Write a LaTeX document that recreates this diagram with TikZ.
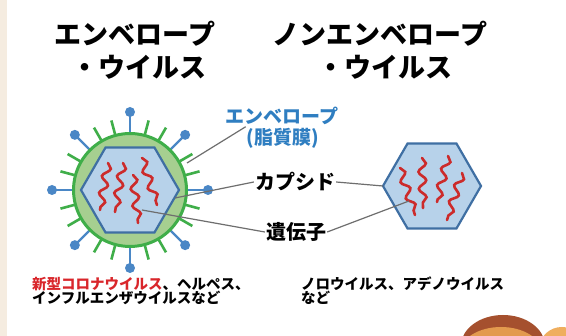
\documentclass[tikz,border=0pt]{standalone}
\usepackage{fontspec}
\setmainfont{Noto Sans CJK JP}
\usetikzlibrary{decorations.pathmorphing,calc}
\definecolor{envfill}{HTML}{A6CF90}
\definecolor{envline}{HTML}{3FAE49}
\definecolor{knob}{HTML}{4A87C6}
\definecolor{capfill}{HTML}{B7D2EA}
\definecolor{capline}{HTML}{3F6FA3}
\definecolor{rna}{HTML}{CC2B2B}
\definecolor{labelblue}{HTML}{2F7EC1}
\definecolor{leader}{HTML}{6E6E6E}
\definecolor{sidebar}{HTML}{F5ECE0}
\definecolor{hairdark}{HTML}{A5502E}
\definecolor{skin}{HTML}{E39A4E}
\definecolor{skinlight}{HTML}{EFAE5E}
\definecolor{hotred}{HTML}{D9262B}
\begin{document}
\begin{tikzpicture}[x=1pt,y=-1pt,
  title/.style={font=\bfseries\fontsize{27}{27}\selectfont, inner sep=0pt},
  partlabel/.style={font=\bfseries\fontsize{19}{19}\selectfont, inner sep=1pt},
  example/.style={font=\bfseries\fontsize{14.5}{17}\selectfont, inner sep=0pt, anchor=base west},
  leaderline/.style={draw=leader, line width=1.2pt},
  capsid/.style={fill=capfill, draw=capline, line width=2.2pt, line join=miter},
  gene/.style={draw=rna, line width=2.6pt, line cap=round, decorate,
    decoration={snake, segment length=17pt, amplitude=3.8pt}},
  spike/.style={draw=envline, line width=2.6pt},
  stalk/.style={draw=knob, line width=2.4pt},
]
% page, side strip
\fill[white] (0,0) rectangle (566,336);
\fill[sidebar] (0,0) rectangle (7,336);
\useasboundingbox (0,0) rectangle (566,336);

% mascot peeking in at the lower right
\begin{scope}
  \clip (0,0) rectangle (566,336);
  \fill[hairdark] (503,346) ellipse [x radius=42, y radius=31];
  \fill[skin] (501,353) ellipse [x radius=41, y radius=26];
  \fill[skinlight] (562,347) ellipse [x radius=22, y radius=20];
\end{scope}

% titles
\node[title] (t1a) at (135,34) {エンベロープ};
\node[title] (t1b) at (139,67) {・ウイルス};
\node[title] (t2a) at (380,34) {ノンエンベロープ};
\node[title] (t2b) at (385,67) {・ウイルス};

% enveloped virus
\coordinate (ev) at (130,190);
\foreach \k in {0,...,7}{
  \foreach \d in {15,30}{
    \draw[spike] (ev) ++(\k*45+\d:56) -- ++(\k*45+\d:16);
  }
  \draw[stalk] (ev) ++(\k*45:56) -- ++(\k*45:20);
  \fill[knob] (ev) ++(\k*45:78) circle (5);
}
\draw[fill=envfill, draw=envline, line width=3pt] (ev) circle (56.5);
\draw[capsid] ([shift={(0:49)}]ev) -- ([shift={(60:49)}]ev) -- ([shift={(120:49)}]ev)
  -- ([shift={(180:49)}]ev) -- ([shift={(240:49)}]ev) -- ([shift={(300:49)}]ev) -- cycle;
\draw[gene] (108,163) -- (100,210);
\draw[gene] (123,163) -- (115,212);
\draw[gene] (133,175) -- (138,223);
\draw[gene] (142,158) -- (157,205);

% non-enveloped virus
\coordinate (nv) at (432,186);
\draw[capsid] ([shift={(0:49)}]nv) -- ([shift={(60:49)}]nv) -- ([shift={(120:49)}]nv)
  -- ([shift={(180:49)}]nv) -- ([shift={(240:49)}]nv) -- ([shift={(300:49)}]nv) -- cycle;
\draw[gene] (400,168) -- (415,215);
\draw[gene] (422,158) -- (423,208);
\draw[gene] (448,156) -- (437,202);
\draw[gene] (462,173) -- (447,220);

% part labels
\node[partlabel, text=labelblue] (envA) at (282,116) {エンベロープ};
\node[partlabel, text=labelblue] (envB) at (283,138) {(脂質膜)};
\node[partlabel, font=\bfseries\fontsize{20}{20}\selectfont] (cap) at (295,182) {カプシド};
\node[partlabel, font=\bfseries\fontsize{20}{20}\selectfont] (gene) at (296,232) {遺伝子};

% leader lines
\coordinate (envPt) at (187,163);
\coordinate (capL) at (175,198);
\coordinate (geneL) at (142,210);
\coordinate (capR) at (383,186);
\coordinate (geneR) at (409,201);
\draw[leaderline] (envPt) -- (envB.north west);
\draw[leaderline] (capL) -- (cap.west);
\draw[leaderline] (cap.east) -- (capR);
\draw[leaderline] (geneL) -- (gene.west);
\draw[leaderline] (gene.east) -- (geneR);

% examples
\node[example] (ex1a) at (32,289.5) {\textcolor{hotred}{新型コロナウイルス}、ヘルペス、};
\node[example] (ex1b) at (32,303.5) {インフルエンザウイルスなど};
\node[example] (ex2a) at (301,289.5) {ノロウイルス、アデノウイルス};
\node[example] (ex2b) at (301,303.5) {など};
\end{tikzpicture}
\end{document}
